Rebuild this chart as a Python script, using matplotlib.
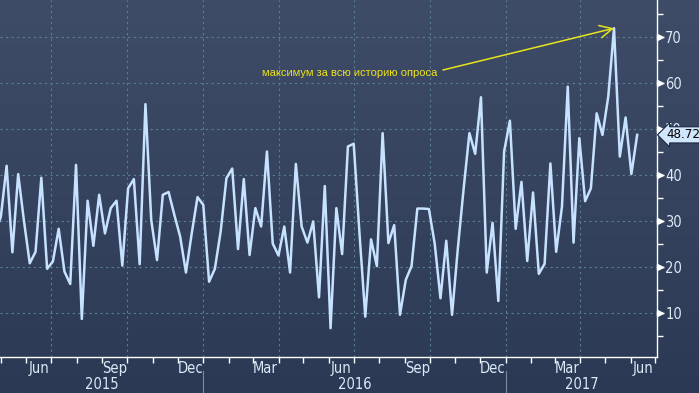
import matplotlib
matplotlib.use("Agg")
import matplotlib.pyplot as plt
import matplotlib.dates as mdates
import matplotlib.transforms as mtrans
from matplotlib.colors import LinearSegmentedColormap
import numpy as np
import pandas as pd

# weekly values
values = [27.3, 30.9, 42.0, 23.2, 40.2, 30.0, 20.8, 23.3, 39.4, 19.6,
          21.2, 28.3, 19.0, 16.3, 42.2, 8.7, 34.4, 24.6, 35.7, 27.3,
          32.8, 34.4, 20.3, 37.1, 39.1, 20.6, 55.4, 30.2, 21.5, 35.7,
          36.3, 31.3, 26.6, 18.8, 27.3, 35.2, 33.5, 16.8, 19.6, 27.7,
          39.3, 41.4, 23.9, 39.1, 22.6, 32.8, 28.8, 45.1, 25.1, 22.5,
          28.8, 18.8, 42.4, 28.8, 25.3, 29.9, 13.4, 37.6, 6.7, 32.8,
          22.8, 46.2, 46.8, 27.3, 9.2, 26.0, 20.2, 49.1, 25.2, 29.1,
          9.6, 17.2, 20.2, 32.7, 32.7, 32.6, 25.1, 13.2, 25.7, 9.6,
          24.0, 37.0, 49.1, 44.6, 56.9, 18.8, 29.6, 12.6, 45.1, 51.8,
          28.3, 38.5, 21.3, 36.2, 18.5, 20.7, 42.5, 23.3, 33.1, 59.2,
          25.3, 48.0, 34.3, 37.1, 53.4, 48.7, 57.0, 71.9, 44.0, 52.5,
          40.2, 48.72]
dates = pd.date_range(end="2017-06-09", periods=len(values), freq="7D")

y_ticks = [10, 20, 30, 40, 50, 60, 70]
month_labels = ["Jun", "Sep", "Dec", "Mar", "Jun", "Sep", "Dec", "Mar", "Jun"]
month_dates = ["2015-06-16", "2015-09-16", "2015-12-16", "2016-03-16", "2016-06-16",
               "2016-09-16", "2016-12-16", "2017-03-16", "2017-06-16"]
year_labels = ["2015", "2016", "2017"]
note = "максимум за всю историю опроса"

lab_kw = dict(family="DejaVu Sans", stretch="condensed", color="#dce9f7")

fig = plt.figure(figsize=(6.99, 3.93), dpi=100)

# background gradient
bg = fig.add_axes([0, 0, 1, 1])
bg.axis("off")
cmap = LinearSegmentedColormap.from_list("bb", ["#3f4c67", "#35435e", "#2b3955"])
bg.imshow(np.linspace(0, 1, 256).reshape(-1, 1), aspect="auto", cmap=cmap,
          extent=[0, 1, 0, 1])
bg.set_xlim(0, 1)
bg.set_ylim(0, 1)

ax = fig.add_axes([0, 1 - 357 / 393, 657 / 699, 357 / 393])
ax.patch.set_alpha(0)

x0, x1 = pd.Timestamp("2015-04-30"), pd.Timestamp("2017-07-03")
ax.set_xlim(x0, x1)
ax.set_ylim(0.43, 78.04)

# grid
grid_kw = dict(color="#5a8090", lw=0.8, ls=(0, (2, 3)), zorder=1)
for y in y_ticks:
    ax.axhline(y, **grid_kw)
for d in pd.date_range("2015-07-01", "2017-04-01", freq="QS-JAN"):
    ax.axvline(d, **grid_kw)

ax.plot(dates, values, color="#c6e2ff", lw=1.8, zorder=3)

# axes styling
for s in ["left", "top"]:
    ax.spines[s].set_visible(False)
for s in ["right", "bottom"]:
    ax.spines[s].set_color("white")
    ax.spines[s].set_linewidth(1)

ax.yaxis.tick_right()
ax.set_yticks(y_ticks)
ax.set_yticks([5, 15, 25, 35, 45, 55, 65, 75], minor=True)
ax.tick_params(axis="y", which="major", direction="out", length=5, width=1,
               colors="white", labelsize=10.5, pad=1)
ax.tick_params(axis="y", which="minor", direction="out", length=4, width=1,
               colors="white")
for lab in ax.get_yticklabels():
    lab.set(**lab_kw)
tri = mtrans.blended_transform_factory(ax.transAxes, ax.transData) + \
    mtrans.ScaledTranslation(2.5 / 72, 0, fig.dpi_scale_trans)
ax.plot([1.0] * len(y_ticks), y_ticks, ">", color="white", ms=4,
        transform=tri, clip_on=False, zorder=4)

ax.xaxis.set_major_locator(mdates.MonthLocator())
ax.xaxis.set_major_formatter(plt.NullFormatter())
ax.tick_params(axis="x", which="major", direction="out", length=4, width=1,
               colors="white")

bx = mtrans.blended_transform_factory(ax.transData, ax.transAxes)
for lab, d in zip(month_labels, month_dates):
    ax.text(pd.Timestamp(d), -0.031, lab, transform=bx, ha="center", va="center",
            fontsize=10.5, **lab_kw)

# year labels and separators
bounds = [x0, pd.Timestamp("2016-01-01"), pd.Timestamp("2017-01-01"), x1]
for i, lab in enumerate(year_labels):
    mid = bounds[i] + (bounds[i + 1] - bounds[i]) / 2
    ax.text(mid, -0.076, lab, transform=bx, ha="center", va="center",
            fontsize=10.5, **lab_kw)
for d in bounds[1:3]:
    ax.plot([d, d], [-0.04, -0.1], color="#808a9c", lw=0.8, transform=bx,
            clip_on=False)

# last value tag
ty = mtrans.blended_transform_factory(ax.transAxes, ax.transData)
ax.text(1.0 + 9 / 657, values[-1], f"{values[-1]:.2f}", transform=ty,
        ha="left", va="center", fontsize=9.5, family="DejaVu Sans",
        stretch="condensed", color="black",
        bbox=dict(boxstyle="larrow,pad=0.12", fc="#cfe6fb", ec="#1c2640", lw=0.8),
        zorder=6, clip_on=False)

# annotation
imax = int(np.argmax(values))
ax.annotate("", xy=(dates[imax], values[imax]), xytext=(443 / 657, 1 - 70 / 357),
            textcoords="axes fraction",
            arrowprops=dict(arrowstyle="->,head_length=0.9,head_width=0.45",
                            color="#e8e41c", lw=1.1, shrinkA=0, shrinkB=0),
            zorder=5)
ax.text(262 / 657, 1 - 73 / 357, note, transform=ax.transAxes, ha="left",
        va="center", color="#efe31f", fontsize=8, family=["Liberation Sans", "DejaVu Sans"])

fig.savefig("out.png", dpi=100)
